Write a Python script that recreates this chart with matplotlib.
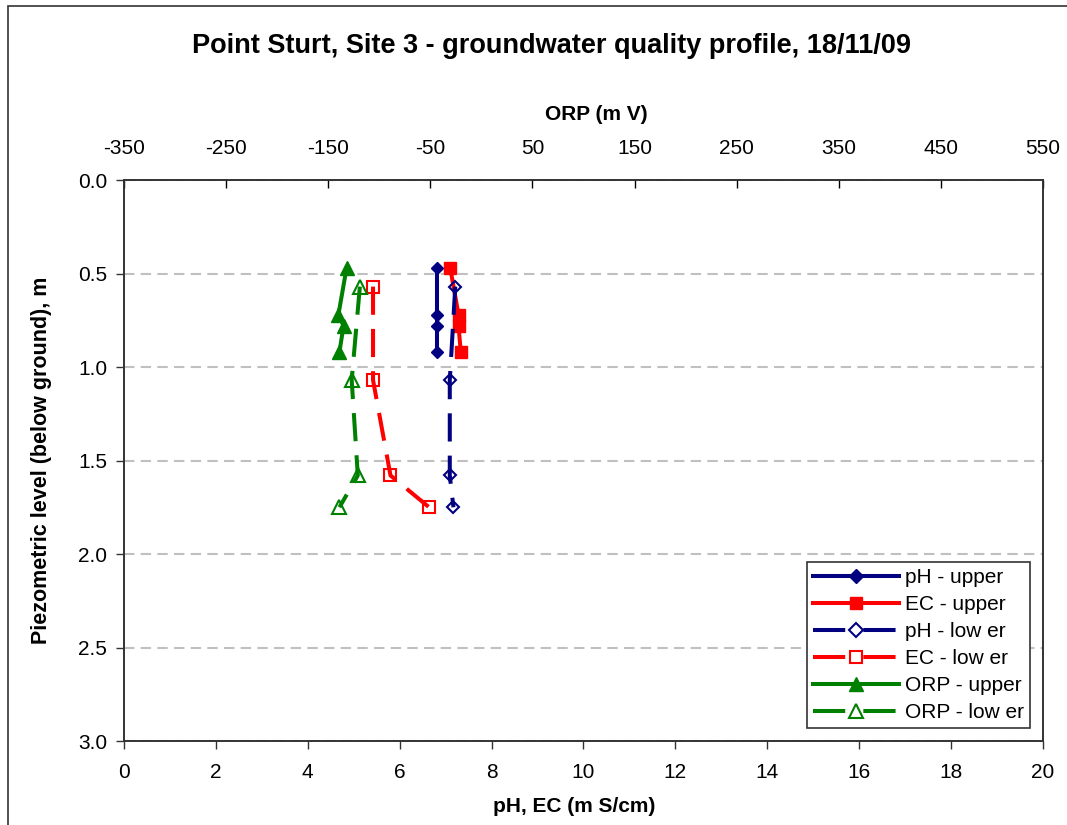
import matplotlib
matplotlib.use("Agg")
import matplotlib.pyplot as plt
from matplotlib.lines import Line2D
from matplotlib.patches import Rectangle

plt.rcParams["font.family"] = ["Liberation Sans", "DejaVu Sans"]
plt.rcParams["axes.unicode_minus"] = False

# depths below ground (m)
depth_upper = [0.47, 0.72, 0.78, 0.92]
depth_lower = [0.57, 1.07, 1.58, 1.75]

# values
ph_upper = [6.82, 6.82, 6.82, 6.82]
ec_upper = [7.10, 7.28, 7.28, 7.33]
ph_lower = [7.21, 7.09, 7.09, 7.17]
ec_lower = [5.42, 5.42, 5.80, 6.64]
orp_upper = [-132, -140, -135, -139]
orp_lower = [-119, -127, -121, -139]

bottom_ticks = list(range(0, 21, 2))
top_ticks = list(range(-350, 551, 100))
depth_ticks = [0.0, 0.5, 1.0, 1.5, 2.0, 2.5, 3.0]

NAVY = "#000080"
RED = "#ff0000"
GREEN = "#008000"
dashed = (0, (7, 3.5))
lw = 2.9

fig = plt.figure(figsize=(10.67, 8.25), dpi=100)
ax = fig.add_axes([0.1162, 0.1018, 0.8613, 0.68])
ax2 = ax.twiny()

# pH and EC on bottom axis
ax.plot(ph_upper, depth_upper, color=NAVY, lw=lw, marker="D", ms=6.5)
ax.plot(ec_upper, depth_upper, color=RED, lw=lw, marker="s", ms=8)
ax.plot(ph_lower, depth_lower, color=NAVY, lw=lw, ls=dashed, marker="D",
        ms=6.5, mfc="none", mew=1.5)
ax.plot(ec_lower, depth_lower, color=RED, lw=lw, ls=dashed, marker="s",
        ms=8, mfc="none", mew=1.5)

# ORP on top axis
ax2.plot(orp_upper, depth_upper, color=GREEN, lw=lw, marker="^", ms=10)
ax2.plot(orp_lower, depth_lower, color=GREEN, lw=lw, ls=dashed, marker="^",
         ms=10, mfc="none", mew=1.5)

ax.set_xlim(0, 20)
ax.set_ylim(3.0, 0.0)
ax2.set_xlim(-350, 550)

ax.set_xticks(bottom_ticks)
ax.set_yticks(depth_ticks)
ax.set_yticklabels([f"{d:.1f}" for d in depth_ticks])
ax2.set_xticks(top_ticks)

ax.yaxis.grid(True, color="#c0c0c0", lw=1.5, ls=(0, (5, 3)))
ax.set_axisbelow(True)

ax.tick_params(axis="x", direction="out", length=6, width=1, labelsize=15,
               color="#333333", pad=10)
ax.tick_params(axis="y", direction="out", length=6, width=1, labelsize=15,
               color="#333333", pad=6)
ax2.tick_params(axis="x", direction="in", length=6, width=1, labelsize=15,
                pad=16)

for a in (ax, ax2):
    for s in a.spines.values():
        s.set_linewidth(1.2)
        s.set_color("#333333")

ax.set_xlabel("pH, EC (m S/cm)", fontsize=15, fontweight="bold", va="center")
ax.xaxis.set_label_coords(0.4897, -0.1176)
ax.set_ylabel("Piezometric level (below ground), m", fontsize=15.5,
              fontweight="bold", va="center")
ax.yaxis.set_label_coords(-0.0893, 0.5)
ax2.set_xlabel("ORP (m V)", fontsize=15, fontweight="bold", va="center")
ax2.xaxis.set_label_coords(0.5136, 1.1159)

fig.text(0.517, 0.944, "Point Sturt, Site 3 - groundwater quality profile, 18/11/09",
         ha="center", va="center", fontsize=19.5, fontweight="bold")

# legend proxies, dashed ones with the gap around the marker like Excel draws it
leg_dash = (0, (8, 4.5))
handles = [
    Line2D([], [], color=NAVY, lw=lw, marker="D", ms=7, label="pH - upper"),
    Line2D([], [], color=RED, lw=lw, marker="s", ms=8.5, label="EC - upper"),
    Line2D([], [], color=NAVY, lw=lw, ls=leg_dash, marker="D", ms=7,
           mfc="none", mew=1.5, label="pH - low er"),
    Line2D([], [], color=RED, lw=lw, ls=leg_dash, marker="s", ms=8.5,
           mfc="none", mew=1.5, label="EC - low er"),
    Line2D([], [], color=GREEN, lw=lw, marker="^", ms=10.5, label="ORP - upper"),
    Line2D([], [], color=GREEN, lw=lw, ls=leg_dash, marker="^", ms=10.5,
           mfc="none", mew=1.5, label="ORP - low er"),
]
leg = ax2.legend(handles=handles, loc="lower right",
                 bbox_to_anchor=(0.986, 0.023), borderaxespad=0, fontsize=15,
                 handlelength=4.1, handletextpad=0.3, labelspacing=0.38,
                 fancybox=False, framealpha=1, edgecolor="#333333",
                 borderpad=0.3)
leg.get_frame().set_linewidth(1.2)

# outer chart border (runs off right and bottom edges)
fig.patches.append(Rectangle((0.0075, -0.1), 1.2, 1.0927, transform=fig.transFigure,
                             fill=False, edgecolor="#333333", lw=1.2))

fig.savefig("out.png", dpi=100)
